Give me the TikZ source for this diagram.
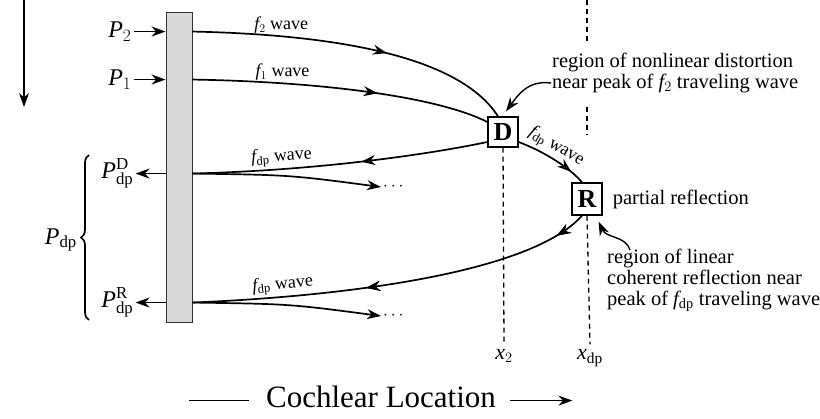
\documentclass[tikz,border=0pt]{standalone}
\usepackage{fontspec}
\setmainfont{Liberation Serif}
\usetikzlibrary{arrows.meta}
\usetikzlibrary{positioning,decorations.markings,decorations.pathreplacing}

\tikzset{
  wave/.style={line width=1.7pt},
  midtip/.style={postaction={decorate},
    decoration={markings,mark=at position #1 with {\arrow{>}}}},
  stapes/.style={draw=black!80, fill=gray!30, line width=0.9pt,
    minimum width=26pt, minimum height=310pt, inner sep=0pt},
  site/.style={draw, fill=white, line width=1.3pt, minimum width=30pt,
    minimum height=30pt, inner sep=0pt,
    font=\fontsize{26}{26}\selectfont\bfseries},
  plab/.style={inner sep=2pt, font=\fontsize{24}{26}\selectfont},
  wlab/.style={inner sep=2pt, font=\fontsize{18}{20}\selectfont},
  note/.style={inner sep=1pt, align=left, font=\fontsize{20.5}{21}\selectfont},
  guide/.style={line width=1.3pt, dash pattern=on 5pt off 4pt},
}

\begin{document}
\begin{tikzpicture}[x=1pt,y=-1pt,>={Stealth[length=14pt,width=10pt]}]
\useasboundingbox (0,0) rectangle (820,419);

\draw[wave,->] (24,0) -- (24,107);

% middle ear bar
\node[stapes] (bar) at (179,167) {};
\path (bar.north west) ++(0,20) coordinate (i2);
\path (bar.north west) ++(0,68) coordinate (i1);
\path (bar.north west) ++(0,162) coordinate (iD);
\path (bar.north west) ++(0,291) coordinate (iR);
\path (bar.north east) ++(0,20) coordinate (o2);
\path (bar.north east) ++(0,68) coordinate (o1);
\path (bar.north east) ++(0,162) coordinate (oD);
\path (bar.north east) ++(0,291) coordinate (oR);

\node[plab, left=32pt of i2] (p2) {$\mathit{P}_2$};
\node[plab, left=32pt of i1] (p1) {$\mathit{P}_1$};
\node[plab, left=30pt of iD] (pD) {$\mathit{P}^{\mathrm{D}}_{\mathrm{dp}}$};
\node[plab, left=30pt of iR] (pR) {$\mathit{P}^{\mathrm{R}}_{\mathrm{dp}}$};
\draw[wave,->] (p2.east |- i2) -- (i2);
\draw[wave,->] (p1.east |- i1) -- (i1);
\draw[wave,->] (iD) -- (pD.east |- iD);
\draw[wave,->] (iR) -- (pR.east |- iR);

\draw[wave, decorate, decoration={brace, amplitude=8pt}] (89,320) -- (89,155);
\node[plab, anchor=east] (pdp) at (79,240) {$\mathit{P}_{\mathrm{dp}}$};

% generation and reflection sites
\node[site] (D) at (503,132) {D};
\node[site, minimum height=32pt] (R) at (587,199) {R};

\draw[wave, midtip=0.6] (o2) .. controls (350,35) and (462,60) .. ([xshift=-5pt]D.north)
  node[wlab, above, pos=0.2] (l2) {$\mathit{f}_2$ wave};
\draw[wave, midtip=0.62] (o1) .. controls (330,82) and (440,98) .. ([yshift=10pt]D.west)
  node[wlab, above, pos=0.23] (l1) {$\mathit{f}_1$ wave};
\draw[wave, midtip=0.43] ([yshift=-10pt]D.west) .. controls (440,152) and (330,170) .. (oD)
  node[wlab, above, sloped, pos=0.77] (lD) {$\mathit{f}_{\mathrm{dp}}$ wave};
\draw[wave, midtip=0.8] ([yshift=-10pt]D.east) .. controls (545,152) and (570,168) .. ([xshift=-5pt]R.north)
  node[wlab, above, sloped, pos=0.42] (lDR) {$\mathit{f}_{\mathrm{dp}}$ wave};
\draw[wave, midtip=0.08, midtip=0.57] ([xshift=-5pt]R.south) .. controls (532,272) and (350,296) .. (oR)
  node[wlab, above, sloped, pos=0.81] (lR) {$\mathit{f}_{\mathrm{dp}}$ wave};

% waves going on
\coordinate (eD) at (381,187);
\coordinate (eR) at (381,316);
\draw[wave,->] (oD) .. controls (290,175) .. (eD);
\draw[wave,->] (oR) .. controls (290,304) .. (eR);
\node[wlab, right=0pt of eD] (dD) {$\cdots$};
\node[wlab, right=0pt of eR] (dR) {$\cdots$};

% places along the cochlea
\node[note, font=\fontsize{22}{22}\selectfont] (x2) at (504,356) {$\mathit{x}_2$};
\node[note, font=\fontsize{22}{22}\selectfont] (xdp) at (590,358) {$\mathit{x}_{\mathrm{dp}}$};
\draw[guide] (D.south) -- ([yshift=6pt]x2.north);
\draw[guide] (R.south) -- ([yshift=4pt]xdp.north);
\draw[guide] (587,0) -- (587,43) (587,107) -- (587,135);

% notes
\node[note, anchor=west] (nD) at (551,73) {region of nonlinear distortion\\near peak of $\mathit{f}_2$ traveling wave};
\draw[line width=1.4pt,->] ([yshift=-10pt]nD.west) .. controls (528,80) and (518,95) .. ([xshift=3pt,yshift=5pt]D.north);
\node[note, right=9pt of R] (pr) {partial reflection};
\node[note, anchor=north west] (nR) at (606,248) {region of linear\\coherent reflection near\\peak of $\mathit{f}_{\mathrm{dp}}$ traveling wave};
\draw[line width=1.4pt,->] ([xshift=24pt,yshift=-2pt]nR.north west) .. controls (626,236) and (606,238) .. ([xshift=-4pt,yshift=-6pt]R.south east);

\node[font=\fontsize{31}{32}\selectfont] (loc) at (381,397) {Cochlear Location};
\draw[line width=1.1pt] ([xshift=-14pt,yshift=7pt]loc.base west) -- ++(-60,0);
\draw[line width=1.1pt,->] ([xshift=11pt,yshift=7pt]loc.base east) -- ++(62,0);
\end{tikzpicture}
\end{document}
